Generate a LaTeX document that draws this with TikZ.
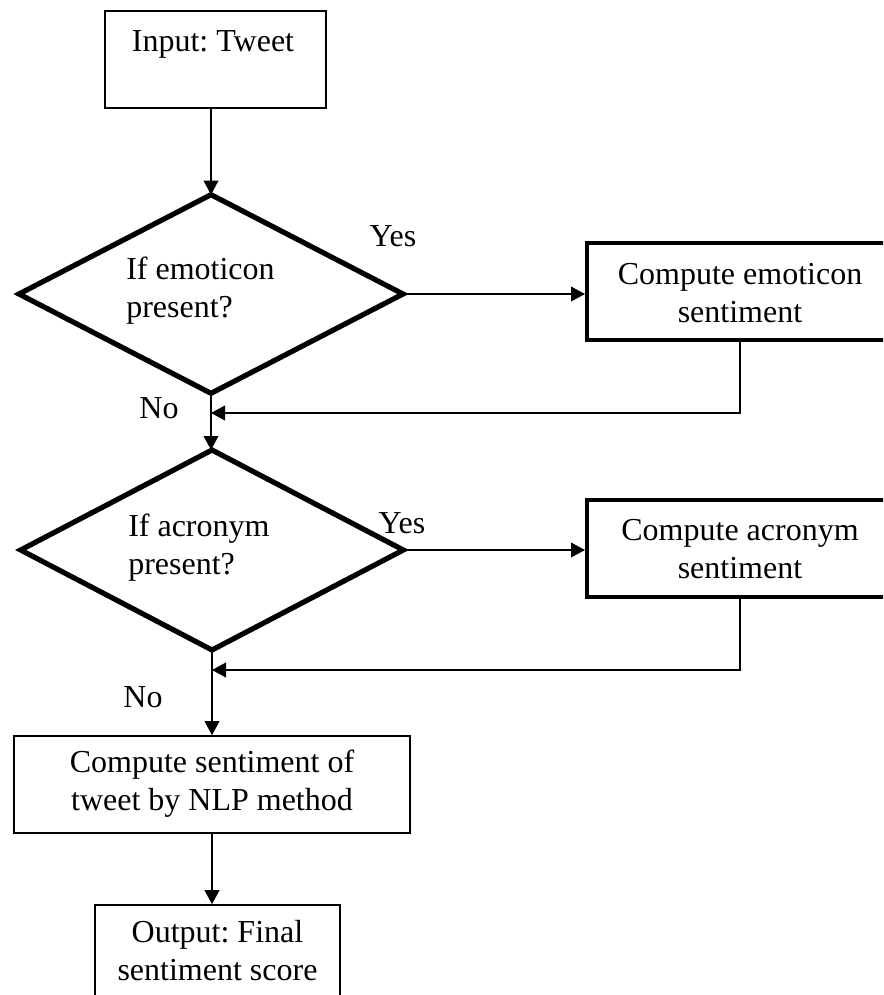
\documentclass[tikz,border=0pt]{standalone}
\usepackage{fontspec}
\setmainfont{Liberation Serif}
\usetikzlibrary{shapes.geometric,arrows.meta}
\frenchspacing
\begin{document}
\begin{tikzpicture}[x=0.75pt,y=-0.75pt,
  font=\fontsize{24}{28.5}\selectfont,
  thinbox/.style={draw,line width=1.2pt,rectangle,inner sep=0pt},
  thickbox/.style={draw,line width=3pt,rectangle,inner sep=0pt},
  decision/.style={draw,line width=3.9pt,diamond,inner sep=0pt,outer sep=0pt,miter limit=20},
  txt/.style={inner sep=0pt,align=center},
  arr/.style={line width=1.2pt,-{Triangle[length=10.5pt,width=11pt]}},
  conn/.style={line width=1.2pt}]
\useasboundingbox (0,0) rectangle (883,995);
\clip (0,0) rectangle (883,995);

% boxes and decisions
\node[thinbox,minimum width=165.75pt,minimum height=72.75pt] (in) at (215.5,59.5) {};
\node[txt] (intxt) at (213,44) {Input: Tweet};

\node[decision,minimum width=288pt,minimum height=149pt] (d1) at (211,294) {};
\node[txt,align=left,anchor=west] (d1txt) at (126,291) {If emoticon\\present?};

\node[thickbox,minimum width=229.5pt,minimum height=72.75pt] (emo) at (740,291.5) {};
\node[txt] (emotxt) at (740,293) {Compute emoticon\\sentiment};

\node[decision,minimum width=287pt,minimum height=150pt] (d2) at (212,550) {};
\node[txt,align=left,anchor=west] (d2txt) at (128,548) {If acronym\\present?};

\node[thickbox,minimum width=229.5pt,minimum height=72.75pt] (acr) at (740,548.5) {};
\node[txt] (acrtxt) at (740,549) {Compute acronym\\sentiment};

\node[thinbox,minimum width=297pt,minimum height=72.75pt] (nlp) at (212,784.5) {};
\node[txt] (nlptxt) at (212,784) {Compute sentiment of\\tweet by NLP method};

\node[thinbox,minimum width=183.75pt,minimum height=72.75pt] (out) at (217.5,953.5) {};
\node[txt] (outtxt) at (217.5,951) {Output: Final\\sentiment score};

% branch labels
\node[txt] (yes1) at (393,236) {Yes};
\node[txt] (no1) at (159,408) {No};
\node[txt] (yes2) at (402,523) {Yes};
\node[txt] (no2) at (143,697) {No};

% merge points on the main line
\coordinate (m1) at (211,413);
\coordinate (m2) at (212,670);

% connectors
\draw[arr] (d1.north |- in.south) -- (d1.north);
\draw[arr] (d1.east) -- (emo.west |- d1.east);
\draw[conn] (emo.south) |- ([xshift=2pt]m1);
\draw[arr] ([xshift=40pt]m1) -- (m1);
\draw[arr] (d1.south) -- (d2.north -| d1.south);
\draw[arr] (d2.east) -- (acr.west |- d2.east);
\draw[conn] (acr.south) |- ([xshift=2pt]m2);
\draw[arr] ([xshift=40pt]m2) -- (m2);
\draw[arr] (d2.south) -- (nlp.north -| d2.south);
\draw[arr] (nlp.south -| d2.south) -- (out.north -| d2.south);
\end{tikzpicture}
\end{document}
